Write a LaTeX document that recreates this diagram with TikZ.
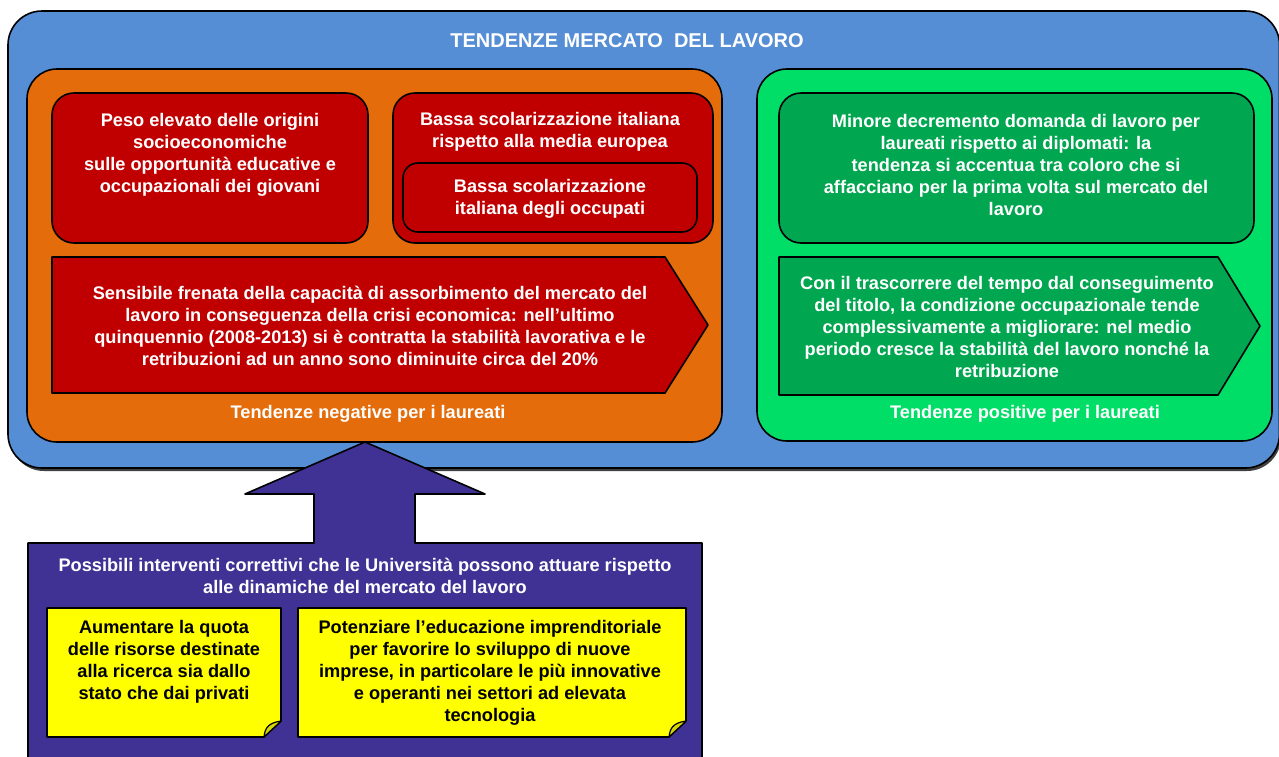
\documentclass[tikz,border=0pt]{standalone}
\usepackage{fontspec}
\setmainfont{Liberation Sans}
\definecolor{cblue}{HTML}{558ED5}
\definecolor{corange}{HTML}{E46C0A}
\definecolor{cred}{HTML}{C00000}
\definecolor{cgreenL}{HTML}{00DE68}
\definecolor{cgreenD}{HTML}{00A650}
\definecolor{cpurple}{HTML}{403294}
\definecolor{cyellow}{HTML}{FFFF00}
\definecolor{cfold}{HTML}{D6D600}
\tikzset{
  shp/.style={draw=black, line width=1.6pt, line join=round},
  wtxt/.style={text=white, font=\fontsize{18.2}{22}\selectfont\bfseries, align=center, inner sep=0pt},
  btxt/.style={text=black, font=\fontsize{18.2}{22}\selectfont\bfseries, align=center, inner sep=0pt},
}
\begin{document}
\begin{tikzpicture}[x=1pt,y=-1pt]
\clip (0,0) rectangle (1279,756);
\fill[white] (0,0) rectangle (1279,756);
% outer blue box with shadow
\fill[black!75, rounded corners=34pt] (10,14) rectangle (1281,471);
\path[shp, fill=cblue, rounded corners=34pt] (8,11) rectangle (1279.5,468);
\node[wtxt, font=\fontsize{20}{22}\selectfont\bfseries] (title) at (627,41) {TENDENZE MERCATO \ DEL LAVORO};
% orange panel
\path[shp, fill=corange, rounded corners=30pt] (27,69) rectangle (722,442);
% green panel
\path[shp, fill=cgreenL, rounded corners=30pt] (757,69) rectangle (1272,441);
% red box 1
\path[shp, fill=cred, rounded corners=22pt] (52,93) rectangle (368,243);
\node[wtxt] (r1) at (210,155) {Peso elevato delle origini\\socioeconomiche\\sulle opportunità educative e\\occupazionali dei giovani};
% red box 2
\path[shp, fill=cred, rounded corners=22pt] (393,93) rectangle (713,243);
\node[wtxt] (r2) at (550,132) {Bassa scolarizzazione italiana\\rispetto alla media europea};
\path[shp, fill=cred, rounded corners=15pt] (403,163) rectangle (697,232);
\node[wtxt] (r3) at (550,199) {Bassa scolarizzazione\\italiana degli occupati};
% red arrow
\path[shp, fill=cred] (52,257) -- (665,257) -- (708,325) -- (665,393) -- (52,393) -- cycle;
\node[wtxt] (r4) at (370,326) {Sensibile frenata della capacità di assorbimento del mercato del\\lavoro in conseguenza della crisi economica: nell’ultimo\\quinquennio (2008-2013) si è contratta la stabilità lavorativa e le\\retribuzioni ad un anno sono diminuite circa del 20\%};
\node[wtxt] (neg) at (368,414) {Tendenze negative per i laureati};
% green box 1
\path[shp, fill=cgreenD, rounded corners=22pt] (779,93) rectangle (1254,243);
\node[wtxt] (g1) at (1016,165) {Minore decremento domanda di lavoro per\\laureati rispetto ai diplomati: la\\tendenza si accentua tra coloro che si\\affacciano per la prima volta sul mercato del\\lavoro};
% green arrow
\path[shp, fill=cgreenD] (779,257) -- (1218,257) -- (1260,326) -- (1218,395) -- (779,395) -- cycle;
\node[wtxt] (g2) at (1007,327) {Con il trascorrere del tempo dal conseguimento\\del titolo, la condizione occupazionale tende\\complessivamente a migliorare: nel medio\\periodo cresce la stabilità del lavoro nonché la\\retribuzione};
\node[wtxt] (pos) at (1025,414) {Tendenze positive per i laureati};
% purple arrow + box
\path[shp, fill=cpurple] (28,543) -- (314,543) -- (314,494) -- (245,494) -- (365,442) -- (485,494) -- (415,494) -- (415,543) -- (702,543) -- (702,790) -- (28,790) -- cycle;
\node[wtxt] (p1) at (365,576) {Possibili interventi correttivi che le Università possono attuare rispetto\\alle dinamiche del mercato del lavoro};
% yellow note 1
\path[shp, fill=cyellow] (47,608) -- (281,608) -- (281,721) -- (264,737) -- (47,737) -- cycle;
\path[shp, line width=1.2pt, fill=cfold] (264,737) .. controls (265,728) and (268,723) .. (281,721) .. controls (275,727) and (270,731) .. (264,737) -- cycle;
\node[btxt] (y1) at (164,662) {Aumentare la quota\\delle risorse destinate\\alla ricerca sia dallo\\stato che dai privati};
% yellow note 2
\path[shp, fill=cyellow] (298,608) -- (686,608) -- (686,721) -- (669,737) -- (298,737) -- cycle;
\path[shp, line width=1.2pt, fill=cfold] (669,737) .. controls (670,728) and (673,723) .. (686,721) .. controls (680,727) and (675,731) .. (669,737) -- cycle;
\node[btxt] (y2) at (490,673) {Potenziare l’educazione imprenditoriale\\per favorire lo sviluppo di nuove\\imprese, in particolare le più innovative\\e operanti nei settori ad elevata\\tecnologia};
\end{tikzpicture}
\end{document}
